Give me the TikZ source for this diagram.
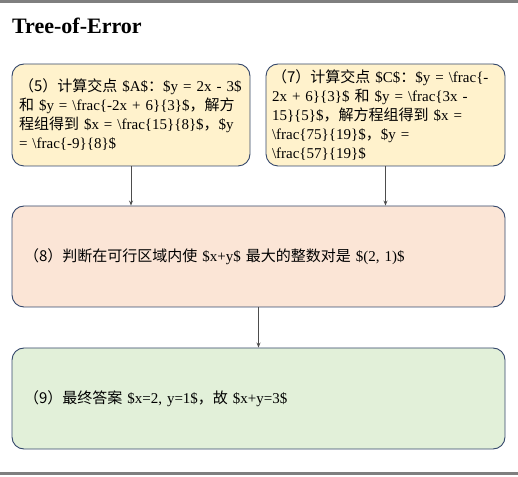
\documentclass[tikz,border=0pt]{standalone}
\usepackage{fontspec}
\setmainfont{Liberation Serif}
\newfontfamily\cjk{Noto Sans CJK SC}
\usepackage{tikz}
\usetikzlibrary{arrows.meta, positioning}
\usepackage{xcolor}
\definecolor{boxline}{HTML}{34476B}
\definecolor{framegray}{HTML}{7F7F7F}
\definecolor{linkgray}{HTML}{4D4D4D}
\definecolor{yellowfill}{HTML}{FFF2CC}
\definecolor{peachfill}{HTML}{FBE5D6}
\definecolor{greenfill}{HTML}{E2F0D9}
\newcommand{\bsfrac}{\textbackslash frac}

\begin{document}
\begin{tikzpicture}[x=1pt, y=1pt,
    stepbox/.style={draw=boxline, line width=0.9pt, rounded corners=12pt,
      align=left, inner xsep=2pt, inner ysep=0pt, font=\fontsize{15}{19}\selectfont},
    link/.style={draw=linkgray, line width=0.9pt, -{Stealth[length=5pt,width=4pt]}}]

  \useasboundingbox (0,0) rectangle (518,476);

  % Frame lines
  \draw[framegray, line width=2.5pt] (0,474.5) -- (518,474.5);
  \draw[framegray, line width=2.5pt] (0,2.5) -- (518,2.5);

  \node[anchor=base west, inner sep=0pt, font=\fontsize{22}{26}\selectfont\bfseries] (title) at (12,442) {Tree-of-Error};

  % Steps 5 and 7
  \node[stepbox, fill=yellowfill, inner xsep=7pt, text width=224pt, minimum height=102pt] (s5) at (131,361)
    {\mbox{{\cjk （5）计算交点} \$A\${\cjk ：}\$y = 2x - 3\$}\\
     {\cjk 和} \$y = \bsfrac\{-2x + 6\}\{3\}\${\cjk ，解方}\\
     {\cjk 程组得到} \$x = \bsfrac\{15\}\{8\}\${\cjk ，}\$y\\
     = \bsfrac\{-9\}\{8\}\$};
  \node[stepbox, fill=yellowfill, inner xsep=6pt, text width=227pt, minimum height=102pt] (s7) at (385.5,361)
    {{\cjk （7）计算交点} \$C\${\cjk ：}\$y = \bsfrac\{-\\
     2x + 6\}\{3\}\$ {\cjk 和} \$y = \bsfrac\{3x -\\
     15\}\{5\}\${\cjk ，解方程组得到} \$x =\\
     \bsfrac\{75\}\{19\}\${\cjk ，}\$y =\\
     \bsfrac\{57\}\{19\}\$};

  % Step 8
  \node[stepbox, fill=peachfill, inner xsep=12pt, text width=469pt, minimum height=101pt] (s8) at (258.5,219.5)
    {{\cjk （8）判断在可行区域内使} \$x+y\$ {\cjk 最大的整数对是} \$(2, 1)\$};

  % Step 9
  \node[stepbox, fill=greenfill, inner xsep=12pt, text width=469pt, minimum height=101pt] (s9) at (258.5,77.5)
    {{\cjk （9）最终答案} \$x=2, y=1\${\cjk ，故} \$x+y=3\$};

  % Links
  \draw[link] (s5.south) -- (s5.south |- s8.north);
  \draw[link] (s7.south) -- (s7.south |- s8.north);
  \draw[link] (s8.south) -- (s9.north);
\end{tikzpicture}
\end{document}
